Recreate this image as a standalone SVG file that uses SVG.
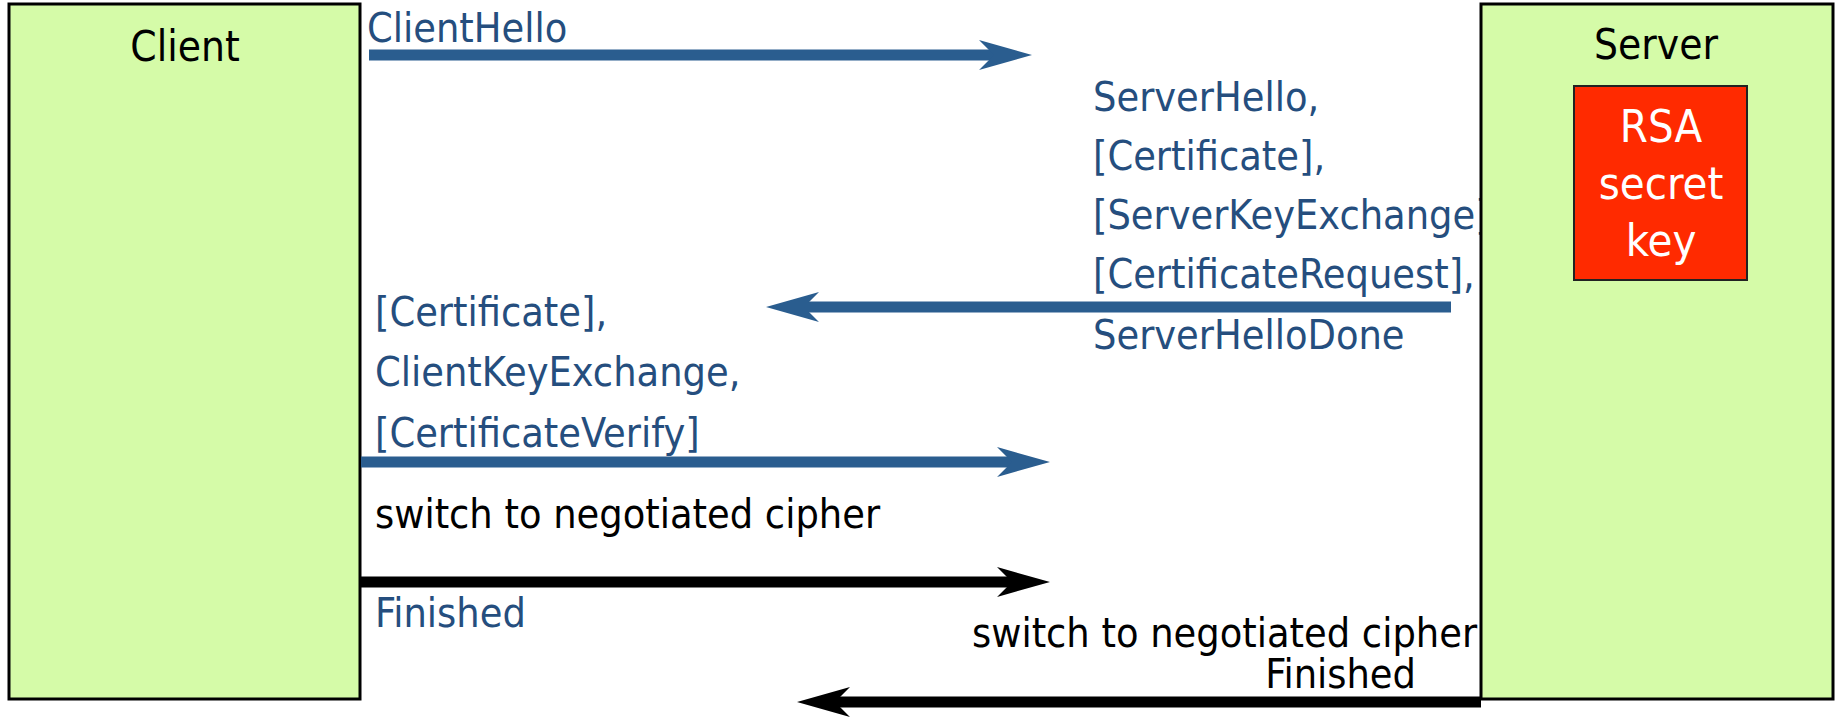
<svg xmlns="http://www.w3.org/2000/svg" width="1839" height="719" viewBox="0 0 1839 719">
<style>
.box{fill:#D5FBA8;stroke:#000;stroke-width:3}
.key{fill:#FF2A00;stroke:#222;stroke-width:2}
text{font-family:"DejaVu Sans Condensed","DejaVu Sans","Liberation Sans",sans-serif;font-size:41px}
.blk{fill:#000}
.blu{fill:#254E7E}
.wht{fill:#fff;text-anchor:middle;font-size:45px}
.lb{stroke:#2A5D8F;stroke-width:11;fill:none}
.lk{stroke:#000;stroke-width:11;fill:none}
.hb{fill:#2A5D8F}
.hk{fill:#000}
</style>
<rect width="1839" height="719" fill="#fff"/>
<g id="labels">
<text class="blu" x="367" y="42">ClientHello</text>
<text class="blu" x="1093" y="111">ServerHello,</text>
<text class="blu" x="1093" y="170">[Certificate],</text>
<text class="blu" x="1093" y="229">[ServerKeyExchange],</text>
<text class="blu" x="1093" y="288">[CertificateRequest],</text>
<text class="blu" x="1093" y="349">ServerHelloDone</text>
<text class="blu" x="375" y="326">[Certificate],</text>
<text class="blu" x="375" y="386">ClientKeyExchange,</text>
<text class="blu" x="375" y="447">[CertificateVerify]</text>
<text class="blk" x="375" y="528">switch to negotiated cipher</text>
<text class="blu" x="375" y="627">Finished</text>
<text class="blk" x="972" y="647">switch to negotiated cipher</text>
<text class="blk" x="1416" y="688" text-anchor="end">Finished</text>
</g>
<g id="client">
<rect class="box" x="9" y="4" width="351" height="695"/>
<text class="blk" x="185" y="61" text-anchor="middle" style="font-size:42px">Client</text>
</g>
<g id="server">
<rect class="box" x="1481" y="4" width="352" height="695"/>
<text class="blk" x="1656" y="59" text-anchor="middle" style="font-size:42px">Server</text>
<g id="rsa">
<rect class="key" x="1574" y="86" width="173" height="194"/>
<text class="wht" x="1661" y="142">RSA</text>
<text class="wht" x="1661" y="199">secret</text>
<text class="wht" x="1661" y="256">key</text>
</g>
</g>
<g id="connectors">
<line class="lb" x1="369" y1="55" x2="995" y2="55"/>
<polygon class="hb" points="1032,55 979,40 994,55 979,70"/>
<line class="lb" x1="1451" y1="307" x2="800" y2="307"/>
<polygon class="hb" points="766,307 819,292 804,307 819,322"/>
<line class="lb" x1="361" y1="462" x2="1013" y2="462"/>
<polygon class="hb" points="1050,462 997,447 1012,462 997,477"/>
<line class="lk" x1="361" y1="582" x2="1013" y2="582"/>
<polygon class="hk" points="1050,582 997,567 1012,582 997,597"/>
<line class="lk" x1="1481" y1="702" x2="830" y2="702"/>
<polygon class="hk" points="797,702 850,687 835,702 850,717"/>
</g>
</svg>
